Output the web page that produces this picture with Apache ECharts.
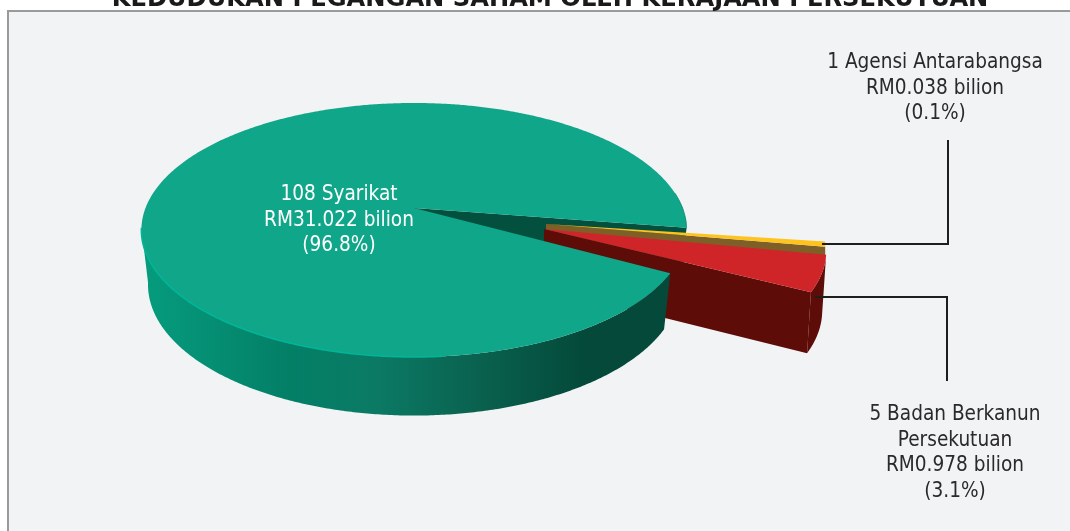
<!DOCTYPE html>
<html><head><meta charset="utf-8">
<style>html,body{margin:0;padding:0;background:#fff}#c{width:1070px;height:531px}</style>
<script src="https://cdn.jsdelivr.net/npm/echarts@6/dist/echarts.min.js"></script>
</head><body><div id="c"></div>
<script>
const titleText = 'KEDUDUKAN PEGANGAN SAHAM OLEH KERAJAAN PERSEKUTUAN';
const categories = ['1 Agensi Antarabangsa', '5 Badan Berkanun Persekutuan', '108 Syarikat'];
const valuesBilion = [0.038, 0.978, 31.022];
const percentLabels = ['(0.1%)', '(3.1%)', '(96.8%)'];
const labelLines = [
  ['1 Agensi Antarabangsa', 'RM0.038 bilion', '(0.1%)'],
  ['5 Badan Berkanun', 'Persekutuan', 'RM0.978 bilion', '(3.1%)'],
  ['108 Syarikat', 'RM31.022 bilion', '(96.8%)']
];

const total = valuesBilion.reduce((a, b) => a + b, 0);
// the reference's small slices are visually enlarged: sweep follows a power of the share
const sweepOf = v => 138 * Math.pow(v / total, 0.608);
const FONT = '20.6px "DejaVu Sans Condensed","DejaVu Sans",sans-serif';
const K = 0.173;
const rad = d => d * Math.PI / 180;
function proj(cx, cy, R, S, deg) {
  const c = Math.cos(rad(deg)), s = Math.sin(rad(deg)), w = 1 - K * s;
  return [cx + R * c / w, cy + S * s / w];
}
function arc(cx, cy, R, S, a, b) {
  const n = Math.max(2, Math.ceil(Math.abs(b - a) * 2)), pts = [];
  for (let i = 0; i <= n; i++) pts.push(proj(cx, cy, R, S, a + (b - a) * i / n));
  return pts;
}
const topG = [414, 208, 268.5, 123.2], botG = [414, 262, 262, 127];
const ySweep = sweepOf(valuesBilion[0]), rSweep = sweepOf(valuesBilion[1]);
const yA = 8, yB = yA + ySweep, rA = yB + 1.3, rB = rA + rSweep;
const gA = rB + 0.9, gB = 360 + yA + 1;

const topR = [544, 229, 278, 123.2], botR = [544, 288, 274, 127];
const topY = [546, 224, 275, 123.2];

const poly = (points, fill, extra) => ({type: 'polygon', shape: {points}, style: Object.assign({fill}, extra || {}), silent: true});
const line = (points, stroke, w) => ({type: 'polyline', shape: {points}, style: {stroke, lineWidth: w, fill: null}, silent: true});
const grad = stops => new echarts.graphic.LinearGradient(0, 0, 1, 0, stops.map(s => ({offset: s[0], color: s[1]})));

const drawOrder = ['syarikatBack', 'agensi', 'badan', 'syarikatFront', 'labels'];

function renderLayer(params) {
  const layer = drawOrder[params.dataIndex];
  const children = [];
  if (layer === 'syarikatBack') {
    const endT = proj(...topG, gB), endB = proj(...botG, gB);
    children.push(poly([[topG[0], topG[1]], endT, endB, [botG[0], botG[1]]], '#04503F'));
  }
  if (layer === 'agensi') {
    const a = proj(...topY, yB), w = 9;
    children.push(poly([[topY[0], topY[1]], a, [a[0], a[1] + w], [topY[0], topY[1] + w - 3]], '#7F5F28'));
    children.push(poly([[topY[0], topY[1]]].concat(arc(...topY, yA, yB)), '#FFC31E'));
  }
  if (layer === 'badan') {
    const tArc = arc(...topR, rA, rB), bArc = arc(...botR, rA, rB);
    children.push(poly(tArc.concat(bArc.slice().reverse()), '#5E0C08'));
    const e = proj(...topR, rB), f = proj(...botR, rB);
    children.push(poly([[topR[0], topR[1]], e, f, [botR[0], botR[1]]], '#5E0C08'));
    children.push(poly([[topR[0], topR[1]]].concat(tArc), '#CF2428'));
  }
  if (layer === 'syarikatFront') {
    const tArc = arc(...topG, gA, 171), bArc = arc(...botG, gA, 171);
    children.push(poly(tArc.concat(bArc.slice().reverse()), grad([
      [0, '#069C7E'], [0.28, '#037F66'], [0.44, '#0B7A65'], [0.65, '#09604D'], [0.84, '#04493A'], [1, '#04493A']
    ])));
    children.push(poly([[topG[0], topG[1]]].concat(arc(...topG, gA, gB)), '#10A689'));
    children.push(line(arc(...topG, 85, 171), '#00B598', 1.6));
    children.push(line(arc(...topG, gB - 16, gB), '#0F8E76', 1));
  }
  if (layer === 'labels') {
    children.push(line([[822, 244], [948, 244], [948, 140]], '#1E1E1E', 2));
    children.push(line([[815, 297], [947, 297], [947, 381]], '#1E1E1E', 2));
    const place = [[935, 62.5, '#2A2A2A'], [955, 414.5, '#2A2A2A'], [339, 194.5, '#FFFFFF']];
    labelLines.forEach((lines, i) => lines.forEach((t, j) => children.push({
      type: 'text', silent: true,
      style: {text: t, x: place[i][0], y: place[i][1] + j * 25.8, textAlign: 'center', textVerticalAlign: 'middle', fill: place[i][2], font: FONT}
    })));
  }
  return {type: 'group', children};
}

const chart = echarts.init(document.getElementById('c'), null, {renderer: 'canvas'});
chart.setOption({
  animation: false,
  backgroundColor: '#FFFFFF',
  title: {text: titleText, left: 545, top: -17, textAlign: 'center',
    textStyle: {fontFamily: '"DejaVu Sans","Liberation Sans",sans-serif', fontWeight: 'bold', fontSize: 24.2, color: '#1A1A1A'}},
  graphic: [{type: 'rect', z: -10, shape: {x: 8, y: 11, width: 1070, height: 540}, style: {fill: '#F1F3F5', stroke: '#9A9A9A', lineWidth: 2}, silent: true}],
  series: [{type: 'custom', coordinateSystem: 'none', renderItem: renderLayer, data: drawOrder, clip: false, silent: true}]
});
</script></body></html>
